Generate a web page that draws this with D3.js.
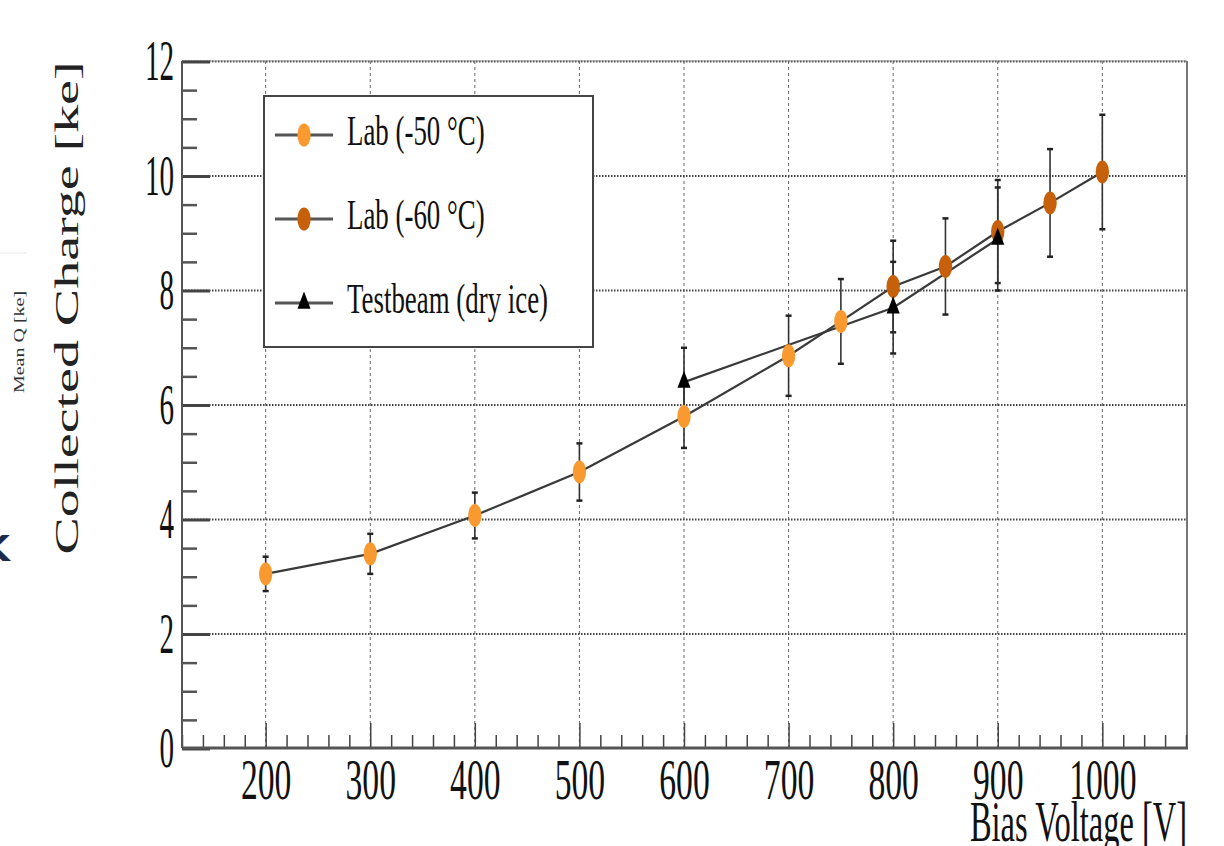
<!DOCTYPE html>
<html>
<head>
<meta charset="utf-8">
<script src="https://cdn.jsdelivr.net/npm/d3@7"></script>
<style>
  body { margin: 0; background: #fff; }
  svg { display: block; }
  text { font-family: "Liberation Serif", "Times New Roman", serif; fill: #111; }
</style>
</head>
<body>
<script>
// data
var voltLab50 = [200, 300, 400, 500, 600, 700, 750];
var chargeLab50 = [3.05, 3.40, 4.07, 4.83, 5.80, 6.86, 7.46];
var errLab50 = [0.30, 0.35, 0.40, 0.50, 0.55, 0.70, 0.74];

var voltLab60 = [800, 850, 900, 950, 1000];
var chargeLab60 = [8.07, 8.42, 9.03, 9.53, 10.07];
var errLab60 = [0.80, 0.84, 0.90, 0.94, 1.00];

var voltBeam = [600, 800, 900];
var chargeBeam = [6.40, 7.70, 8.90];
var errBeam = [0.60, 0.80, 0.90];

var xMajor = [200, 300, 400, 500, 600, 700, 800, 900, 1000];
var yMajor = [0, 2, 4, 6, 8, 10, 12];
var legendLabels = ["Lab (-50 °C)", "Lab (-60 °C)", "Testbeam (dry ice)"];

var W = 1224, H = 846;
var frameL = 182, frameR = 1186, frameT = 61, frameB = 748;
var lightOrange = "#f99a30", darkOrange = "#c6600a";

var svg = d3.select("body").append("svg")
    .attr("width", W)
    .attr("height", H);

svg.append("rect").attr("width", W).attr("height", H).attr("fill", "#fff");

var x = d3.scaleLinear().domain([120, 1080]).range([frameL, frameR]);
var y = d3.scaleLinear().domain([0, 12]).range([frameB + 0.5, frameT + 0.5]);

function zip(xs, ys, es) {
  return xs.map(function(v, i) { return {v: v, q: ys[i], e: es[i]}; });
}
var lab50 = zip(voltLab50, chargeLab50, errLab50);
var lab60 = zip(voltLab60, chargeLab60, errLab60);
var beam = zip(voltBeam, chargeBeam, errBeam);

// leftover bits from the slide this was cut out of
svg.append("line").attr("x1", 0).attr("x2", 27).attr("y1", 253).attr("y2", 253)
    .attr("stroke", "#e8e8e8").attr("stroke-width", 1);
svg.append("text")
    .attr("transform", "translate(24,342) scale(0.7,1) rotate(-90)")
    .attr("text-anchor", "middle")
    .style("font-size", "20px")
    .style("fill", "#333")
    .text("Mean Q [ke]");
svg.append("text")
    .attr("x", -18).attr("y", 561)
    .style("font-family", "DejaVu Sans")
    .style("font-weight", "bold")
    .style("font-size", "36px")
    .style("fill", "#1c2b4b")
    .text("K");

// grid
var grid = svg.append("g");
grid.selectAll(".vgrid").data(xMajor).enter().append("line")
    .attr("x1", function(d) { return x(d); })
    .attr("x2", function(d) { return x(d); })
    .attr("y1", frameT).attr("y2", frameB)
    .attr("stroke", "#666").attr("stroke-width", 1)
    .attr("stroke-dasharray", "3,3");
grid.selectAll(".hgrid").data(yMajor.slice(1)).enter().append("line")
    .attr("x1", frameL).attr("x2", frameR)
    .attr("y1", function(d) { return y(d); })
    .attr("y2", function(d) { return y(d); })
    .attr("stroke", "#444").attr("stroke-width", 1.8)
    .attr("stroke-dasharray", "1.5,1.5");

// frame
svg.append("line").attr("x1", frameL).attr("x2", frameR + 1).attr("y1", frameT).attr("y2", frameT)
    .attr("stroke", "#888").attr("stroke-width", 1);
svg.append("line").attr("x1", frameR + 1).attr("x2", frameR + 1).attr("y1", frameT).attr("y2", frameB)
    .attr("stroke", "#777").attr("stroke-width", 2);

// x axis: minor + major ticks, pointing inward
var xMinor = d3.range(120, 1081, 20).filter(function(d) { return d % 100 !== 0; });
svg.append("g")
    .attr("transform", "translate(0," + frameB + ")")
    .call(d3.axisBottom(x).tickValues(xMinor).tickSize(-13).tickFormat(""))
    .call(function(g) { g.select(".domain").remove(); })
    .selectAll("line").attr("stroke", "#444").attr("stroke-width", 1.5);

var xAxis = svg.append("g")
    .attr("transform", "translate(0," + frameB + ")")
    .call(d3.axisBottom(x).tickValues(xMajor).tickSize(-25).tickFormat(d3.format("d")));
xAxis.select(".domain").remove();
xAxis.selectAll("line").attr("stroke", "#444").attr("stroke-width", 1.5);
xAxis.selectAll("text")
    .attr("y", 51).attr("dy", 0)
    .attr("transform", "scale(0.58,1)")
    .style("font-size", "58px")
    .style("font-family", "Liberation Serif")
    .attr("fill", "#111");

// y axis
var yMinor = d3.range(0, 12.01, 0.5).filter(function(d) { return d % 2 !== 0; });
svg.append("g")
    .attr("transform", "translate(" + frameL + ",0)")
    .call(d3.axisLeft(y).tickValues(yMinor).tickSize(-15).tickFormat(""))
    .call(function(g) { g.select(".domain").remove(); })
    .selectAll("line").attr("stroke", "#555").attr("stroke-width", 2.5);

var yAxis = svg.append("g")
    .attr("transform", "translate(" + frameL + ",0)")
    .call(d3.axisLeft(y).tickValues(yMajor).tickSize(-28).tickPadding(8).tickFormat(d3.format("d")));
yAxis.select(".domain").remove();
yAxis.selectAll("line").attr("stroke", "#444").attr("stroke-width", 3);
yAxis.selectAll("text")
    .attr("x", -8 / 0.52)
    .attr("dy", "0.33em")
    .attr("transform", "scale(0.52,1)")
    .style("font-size", "56px")
    .style("font-family", "Liberation Serif")
    .attr("fill", "#111");

svg.append("line").attr("x1", frameL).attr("x2", frameL).attr("y1", frameT).attr("y2", frameB)
    .attr("stroke", "#555").attr("stroke-width", 2);
svg.append("line").attr("x1", frameL).attr("x2", frameR + 2).attr("y1", frameB).attr("y2", frameB)
    .attr("stroke", "#555").attr("stroke-width", 3);

// axis titles
svg.append("text")
    .attr("transform", "translate(1187,841) scale(0.57,1)")
    .attr("text-anchor", "end")
    .style("font-size", "57px")
    .text("Bias Voltage [V]");
svg.append("text")
    .attr("transform", "translate(78,308) scale(0.6,1) rotate(-90)")
    .attr("text-anchor", "middle")
    .style("font-size", "56px")
    .style("fill", "#222")
    .text("Collected Charge [ke]");

// connecting lines
var line = d3.line()
    .x(function(d) { return x(d.v); })
    .y(function(d) { return y(d.q); });
var plot = svg.append("g");
plot.append("path").datum(lab50.concat(lab60))
    .attr("d", line).attr("fill", "none")
    .attr("stroke", "#3a3a3a").attr("stroke-width", 2.2);
plot.append("path").datum(beam)
    .attr("d", line).attr("fill", "none")
    .attr("stroke", "#3a3a3a").attr("stroke-width", 2.2);

// error bars
function errorBars(data) {
  var g = plot.append("g");
  g.selectAll(".bar").data(data).enter().append("line")
      .attr("x1", function(d) { return x(d.v); })
      .attr("x2", function(d) { return x(d.v); })
      .attr("y1", function(d) { return y(d.q + d.e); })
      .attr("y2", function(d) { return y(d.q - d.e); })
      .attr("stroke", "#333").attr("stroke-width", 1.6);
  [1, -1].forEach(function(s) {
    g.selectAll(".cap" + s).data(data).enter().append("line")
        .attr("x1", function(d) { return x(d.v) - 3; })
        .attr("x2", function(d) { return x(d.v) + 3; })
        .attr("y1", function(d) { return y(d.q + s * d.e); })
        .attr("y2", function(d) { return y(d.q + s * d.e); })
        .attr("stroke", "#222").attr("stroke-width", 2.5);
  });
}
errorBars(lab50);
errorBars(lab60);
errorBars(beam);

// markers
function dots(data, color) {
  plot.append("g").selectAll("ellipse").data(data).enter().append("ellipse")
      .attr("cx", function(d) { return x(d.v); })
      .attr("cy", function(d) { return y(d.q); })
      .attr("rx", 6.7).attr("ry", 11.5)
      .attr("fill", color);
}
dots(lab50, lightOrange);
dots(lab60, darkOrange);

var tri = d3.symbol().type(d3.symbolTriangle).size(170);
plot.append("g").selectAll("path").data(beam).enter().append("path")
    .attr("d", tri)
    .attr("transform", function(d) { return "translate(" + x(d.v) + "," + y(d.q) + ") scale(0.66,1)"; })
    .attr("fill", "#000");

// legend
var legend = svg.append("g");
legend.append("rect")
    .attr("x", 264).attr("y", 96).attr("width", 329).attr("height", 251)
    .attr("fill", "#fff").attr("stroke", "#444").attr("stroke-width", 2);
var rowY = [135, 219, 303];
legend.selectAll(".lline").data(rowY).enter().append("line")
    .attr("x1", 275).attr("x2", 333)
    .attr("y1", function(d) { return d; }).attr("y2", function(d) { return d; })
    .attr("stroke", "#555").attr("stroke-width", 3);
legend.append("ellipse").attr("cx", 304).attr("cy", rowY[0]).attr("rx", 6.7).attr("ry", 11.5).attr("fill", lightOrange);
legend.append("ellipse").attr("cx", 304).attr("cy", rowY[1]).attr("rx", 6.7).attr("ry", 11.5).attr("fill", darkOrange);
legend.append("path").attr("d", tri)
    .attr("transform", "translate(304," + rowY[2] + ") scale(0.66,1)")
    .attr("fill", "#000");
legend.selectAll(".ltext").data(legendLabels).enter().append("text")
    .attr("transform", function(d, i) { return "translate(347," + (rowY[i] + 10) + ") scale(0.64,1)"; })
    .style("font-size", "42px")
    .text(function(d) { return d; });
</script>
</body>
</html>
